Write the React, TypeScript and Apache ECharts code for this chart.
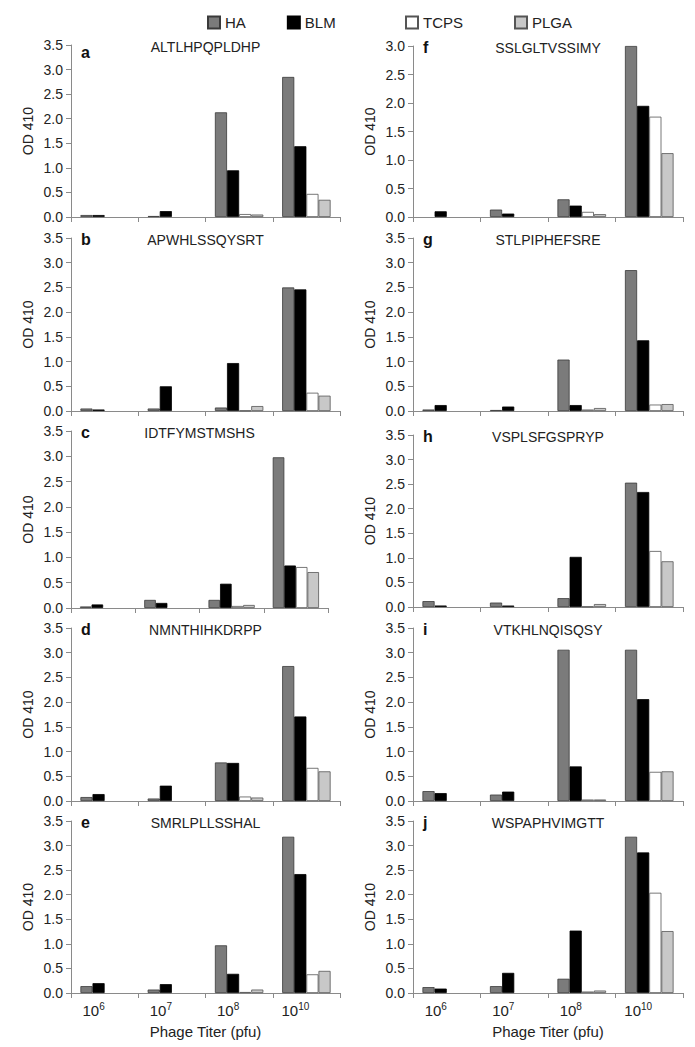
import React, { useEffect, useRef } from "react";
import * as echarts from "echarts";

const categories = ["10^6", "10^7", "10^8", "10^10"];
const seriesNames = ["HA", "BLM", "TCPS", "PLGA"];
const panelLetters = ["a", "b", "c", "d", "e", "f", "g", "h", "i", "j"];
const peptides = [
  "ALTLHPQPLDHP",
  "APWHLSSQYSRT",
  "IDTFYMSTMSHS",
  "NMNTHIHKDRPP",
  "SMRLPLLSSHAL",
  "SSLGLTVSSIMY",
  "STLPIPHEFSRE",
  "VSPLSFGSPRYP",
  "VTKHLNQISQSY",
  "WSPAPHVIMGTT",
];
const yMaxValues = [3.5, 3.5, 3.5, 3.5, 3.5, 3.0, 3.5, 3.5, 3.5, 3.5];
const yInterval = 0.5;
const yAxisTitle = "OD 410";
const xAxisTitle = "Phage Titer (pfu)";

const haValues = [
  [0.04, 0.02, 2.13, 2.85],
  [0.05, 0.05, 0.07, 2.5],
  [0.03, 0.16, 0.16, 2.98],
  [0.08, 0.05, 0.78, 2.73],
  [0.14, 0.07, 0.97, 3.18],
  [null, 0.13, 0.31, 3.0],
  [0.03, 0.02, 1.04, 2.85],
  [0.12, 0.09, 0.18, 2.53],
  [0.2, 0.13, 3.06, 3.06],
  [0.12, 0.14, 0.29, 3.18],
];
const blmValues = [
  [0.04, 0.12, 0.95, 1.44],
  [0.03, 0.5, 0.97, 2.46],
  [0.07, 0.1, 0.48, 0.84],
  [0.14, 0.31, 0.77, 1.71],
  [0.2, 0.18, 0.39, 2.42],
  [0.1, 0.06, 0.2, 1.95],
  [0.12, 0.09, 0.12, 1.43],
  [0.03, 0.03, 1.02, 2.34],
  [0.16, 0.19, 0.7, 2.06],
  [0.09, 0.41, 1.27, 2.86],
];
const tcpsValues = [
  [null, null, 0.06, 0.47],
  [null, null, 0.01, 0.37],
  [null, null, 0.04, 0.81],
  [null, null, 0.09, 0.67],
  [null, null, 0.02, 0.38],
  [null, null, 0.09, 1.76],
  [null, null, 0.03, 0.13],
  [null, null, 0.01, 1.14],
  [null, null, 0.03, 0.59],
  [null, null, 0.03, 2.04],
];
const plgaValues = [
  [null, null, 0.05, 0.35],
  [null, null, 0.1, 0.31],
  [null, null, 0.06, 0.71],
  [null, null, 0.07, 0.6],
  [null, null, 0.07, 0.45],
  [null, null, 0.05, 1.12],
  [null, null, 0.06, 0.14],
  [null, null, 0.06, 0.93],
  [null, null, 0.03, 0.6],
  [null, null, 0.05, 1.26],
];

const FONT = "'Liberation Sans', Arial, Helvetica, sans-serif";

const layout = [
  { left: 71, top: 45, width: 269, height: 172 },
  { left: 71, top: 238, width: 269, height: 173 },
  { left: 71, top: 431, width: 257, height: 177 },
  { left: 71, top: 628, width: 269, height: 173 },
  { left: 71, top: 821, width: 269, height: 172 },
  { left: 413, top: 46, width: 270, height: 171 },
  { left: 413, top: 238, width: 270, height: 173 },
  { left: 413, top: 435, width: 270, height: 172 },
  { left: 413, top: 628, width: 270, height: 173 },
  { left: 413, top: 821, width: 270, height: 172 },
];

const seriesStyles = [
  { color: "#7b7b7b", borderColor: "#3a3a3a" },
  { color: "#000000", borderColor: "#000000" },
  { color: "#ffffff", borderColor: "#555555" },
  { color: "#c8c8c8", borderColor: "#555555" },
];

export default function App() {
  const ref = useRef<HTMLDivElement>(null);

  useEffect(() => {
    if (!ref.current) return;
    const chart = echarts.init(ref.current, null, { renderer: "svg" });
    const allValues = [haValues, blmValues, tcpsValues, plgaValues];
    const bottomPanels = [4, 9];

    const grids = layout.map((g) => ({ ...g, containLabel: false }));

    const xAxes = layout.map((_, p) => ({
      type: "category",
      gridIndex: p,
      data: categories,
      axisLine: { show: true, lineStyle: { color: "#8a8a8a", width: 1 } },
      axisTick: { show: true, length: 5, lineStyle: { color: "#8a8a8a" } },
      axisLabel: {
        show: bottomPanels.includes(p),
        interval: 0,
        hideOverlap: false,
        margin: 8,
        fontSize: 15,
        fontFamily: FONT,
        color: "#222",
        padding: [0, 22, 0, 0],
        formatter: (v: string) => {
          const [base, exp] = v.split("^");
          return `{b|${base}}{s|${exp}}`;
        },
        rich: {
          b: { fontSize: 15, fontFamily: FONT, color: "#222", verticalAlign: "bottom", lineHeight: 17 },
          s: { fontSize: 10, fontFamily: FONT, color: "#222", verticalAlign: "top", lineHeight: 11 },
        },
      },
      splitLine: { show: false },
    }));

    const yAxes = layout.map((_, p) => ({
      type: "value",
      gridIndex: p,
      min: 0,
      max: yMaxValues[p],
      interval: yInterval,
      axisLine: { show: true, lineStyle: { color: "#8a8a8a", width: 1 } },
      axisTick: { show: true, length: 5, lineStyle: { color: "#8a8a8a" } },
      axisLabel: {
        fontSize: 14,
        fontFamily: FONT,
        color: "#222",
        margin: 8,
        formatter: (v: number) => v.toFixed(1),
      },
      splitLine: { show: false },
    }));

    const series: any[] = [];
    layout.forEach((_, p) => {
      seriesNames.forEach((name, s) => {
        series.push({
          type: "bar",
          name,
          xAxisIndex: p,
          yAxisIndex: p,
          data: allValues[s][p],
          barGap: "0%",
          barCategoryGap: "28%",
          itemStyle: {
            color: seriesStyles[s].color,
            borderColor: seriesStyles[s].borderColor,
            borderWidth: 0.8,
          },
        });
      });
    });

    const graphics: any[] = [];
    layout.forEach((g, p) => {
      graphics.push({
        type: "text",
        x: g.left + g.width / 2,
        y: g.top + 2,
        style: {
          text: peptides[p],
          fontSize: 14,
          fontFamily: FONT,
          fill: "#222",
          textAlign: "center",
          textVerticalAlign: "middle",
        },
      });
      graphics.push({
        type: "text",
        x: g.left + 10,
        y: g.top + (p === 0 ? 15 : 9),
        style: {
          text: panelLetters[p],
          fontSize: 16,
          fontWeight: "bold",
          fontFamily: FONT,
          fill: "#111",
          textAlign: "left",
          textVerticalAlign: "bottom",
        },
      });
      graphics.push({
        type: "text",
        x: g.left - 43,
        y: g.top + g.height / 2,
        rotation: Math.PI / 2,
        style: {
          text: yAxisTitle,
          fontSize: 14,
          fontFamily: FONT,
          fill: "#222",
          textAlign: "center",
          textVerticalAlign: "middle",
        },
      });
      if (bottomPanels.includes(p)) {
        graphics.push({
          type: "text",
          x: g.left + g.width / 2,
          y: 1031,
          style: {
            text: xAxisTitle,
            fontSize: 15,
            fontFamily: FONT,
            fill: "#222",
            textAlign: "center",
            textVerticalAlign: "middle",
          },
        });
      }
    });

    const legendCommon = {
      top: 15,
      itemWidth: 12,
      itemHeight: 12,
      icon: "rect",
      selectedMode: false,
      padding: 0,
      textStyle: { fontSize: 15, fontFamily: FONT, color: "#222" },
    };

    chart.setOption({
      animation: false,
      backgroundColor: "#ffffff",
      legend: [
        { ...legendCommon, data: ["HA", "BLM"], left: 207, itemGap: 41 },
        { ...legendCommon, data: ["TCPS", "PLGA"], left: 405, itemGap: 51 },
      ],
      grid: grids,
      xAxis: xAxes,
      yAxis: yAxes,
      series,
      graphic: graphics,
    });

    return () => chart.dispose();
  }, []);

  return (
    <div
      ref={ref}
      style={{ position: "absolute", left: 0, top: 0, width: 695, height: 1047 }}
    />
  );
}
